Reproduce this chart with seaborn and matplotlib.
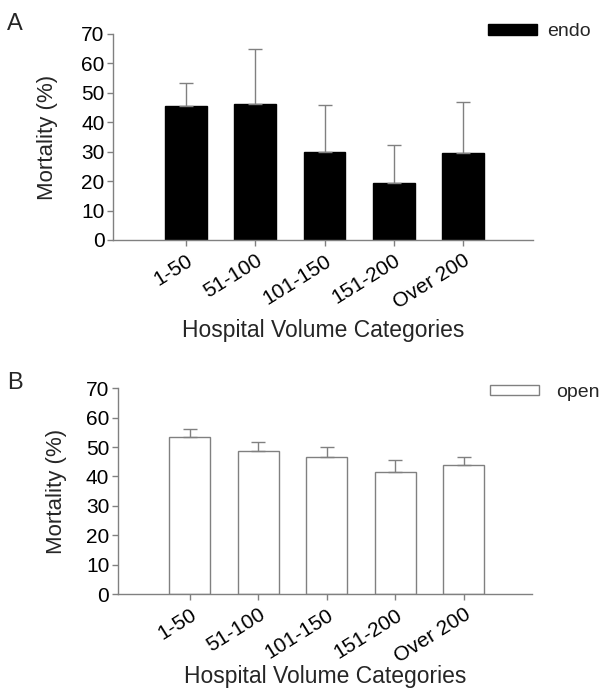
import pandas as pd
import seaborn as sns
import matplotlib.pyplot as plt
from matplotlib.patches import Patch

categories = ['1-50', '51-100', '101-150', '151-200', 'Over 200']
endoMortality = [45.6, 46.2, 30.0, 19.3, 29.5]
endoUpper = [53.5, 64.8, 45.8, 32.3, 46.8]
openMortality = [53.5, 48.8, 46.6, 41.5, 44.0]
openUpper = [56.1, 51.7, 50.0, 45.5, 46.6]

sns.set_style('ticks')
plt.rcParams['font.family'] = ['Liberation Sans', 'DejaVu Sans']

grey = '#808080'

dfEndo = pd.DataFrame({'category': categories, 'mortality': endoMortality,
                       'err': [u - m for u, m in zip(endoUpper, endoMortality)]})
dfOpen = pd.DataFrame({'category': categories, 'mortality': openMortality,
                       'err': [u - m for u, m in zip(openUpper, openMortality)]})

fig = plt.figure(figsize=(6.02, 6.92), dpi=100)
axTop = fig.add_axes([0.1877, 0.6532, 0.697, 0.2977])
axBot = fig.add_axes([0.1955, 0.1416, 0.689, 0.2973])

# ax, data, face, edge, legend name, panel letter, letter y, legend pos, ylabel pad, xlabel y, text pad
panels = [(axTop, dfEndo, 'black', 'black', 'endo', 'A', 0.966, (0.8106, 0.9538), 17, -0.437, 0.55),
          (axBot, dfOpen, 'white', grey, 'open', 'B', 0.4465, (0.814, 0.4328), 14, -0.403, 0.9)]

for ax, df, face, edge, name, letter, ly, lpos, ypad, xly, tpad in panels:
    sns.barplot(data=df, x='category', y='mortality', ax=ax, color=face,
                edgecolor=edge, linewidth=1.0, width=0.6, errorbar=None,
                saturation=1)
    centers = [p.get_x() + p.get_width() / 2 for p in ax.patches]
    ax.errorbar(centers, df['mortality'], yerr=[[0] * len(df), df['err']],
                fmt='none', ecolor=grey, elinewidth=1.0, capsize=5, capthick=1.0)

    ax.set_ylim(0, 70)
    ax.set_xlim(-1.05, 5.0)
    ax.set_yticks(range(0, 71, 10))
    ax.tick_params(axis='both', colors=grey, labelcolor='black', labelsize=15,
                   length=4, width=1.0)
    ax.tick_params(axis='y', pad=2)
    ax.tick_params(axis='x', pad=4)
    plt.setp(ax.get_xticklabels(), rotation=32, ha='right', rotation_mode='anchor')
    for s in ['left', 'bottom']:
        ax.spines[s].set_color(grey)
        ax.spines[s].set_linewidth(1.0)
    sns.despine(ax=ax)

    ax.set_ylabel('Mortality (%)', fontsize=16, labelpad=ypad)
    ax.set_xlabel('Hospital Volume Categories', fontsize=16.5, va='center')
    ax.xaxis.set_label_coords(0.5, xly)

    handle = Patch(facecolor=face, edgecolor=edge, linewidth=1.0)
    fig.legend([handle], [name], loc='center left', bbox_to_anchor=lpos,
               bbox_transform=fig.transFigure, frameon=False, fontsize=14,
               handlelength=2.5, handleheight=0.46, handletextpad=tpad,
               borderaxespad=0, borderpad=0)
    fig.text(0.012, ly, letter, fontsize=17, va='center', ha='left')

fig.savefig('out.png', dpi=100)
